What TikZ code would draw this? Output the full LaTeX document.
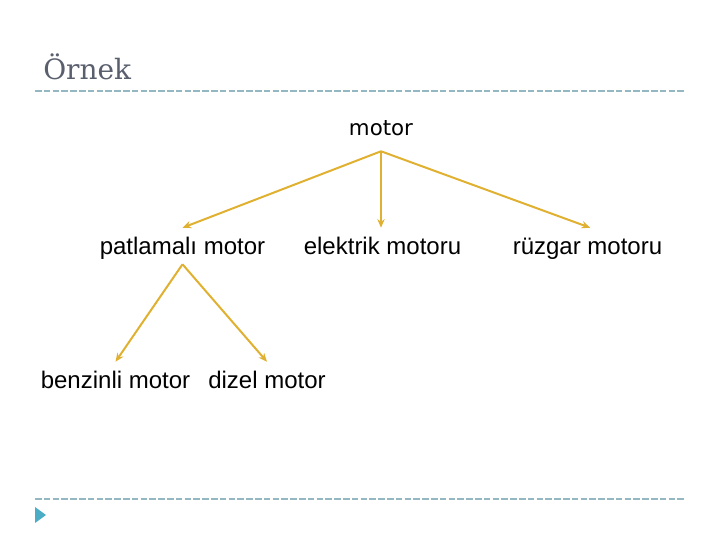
\documentclass[tikz,border=0pt]{standalone}
\usepackage{fontspec}
\setmainfont{Liberation Sans}
\newfontfamily\dvsans{DejaVu Sans}
\newfontfamily\dvserif{DejaVu Serif}
\usepackage{xcolor}
\definecolor{arrgold}{HTML}{E0B030}
\definecolor{ruleteal}{HTML}{93B8C2}
\definecolor{bullteal}{HTML}{4BACC6}
\definecolor{titlegrey}{HTML}{5A5F6E}
\usepackage{tikz}
\usetikzlibrary{positioning,arrows.meta}
\tikzset{
  term/.style ={inner xsep=2pt, inner ysep=0pt, text height=19.5pt, text depth=7.5pt,
                font=\fontsize{18}{20}\selectfont},
  root/.style ={inner xsep=2pt, inner ysep=0pt, text height=12pt, text depth=12pt,
                font=\dvsans\fontsize{16}{18}\selectfont},
  arr/.style  ={-{Stealth[length=6.5pt,width=5.5pt]}, draw=arrgold, line width=1.5pt},
  hrule/.style={draw=ruleteal, line width=0.8pt, dash pattern=on 5pt off 1.6pt},
}

\begin{document}
\begin{tikzpicture}[x=0.75pt,y=-0.75pt]
  \useasboundingbox (0,0) rectangle (720,540);
  % slide frame
  \node[anchor=base west, inner sep=0pt, text=titlegrey,
        font=\dvserif\fontsize{21}{24}\selectfont] (title) at (43,79) {Örnek};
  \draw[hrule] (35,91) -- (685,91);
  \draw[hrule] (35,499) -- (685,499);
  \fill[bullteal] (35,507) -- (46,515) -- (35,523) -- cycle;
  % tree
  \node[root] (motor) at (381,135) {motor};
  \node[term] (patlama) at (182.5,246) {patlamalı motor};
  \node[term] (elektrik) at (382.5,246) {elektrik motoru};
  \node[term] (ruzgar) at (587.5,246) {rüzgar motoru};
  \node[term] (benzin) at (115.5,380) {benzinli motor};
  \node[term] (dizel) at (267,380) {dizel motor};
  \draw[arr] (motor.south) -- (patlama.north);
  \draw[arr] (motor.south) -- (elektrik.north -| motor.south);
  \draw[arr] (motor.south) -- ([xshift=2pt]ruzgar.north);
  \draw[arr] (patlama.south) -- (benzin.north);
  \draw[arr] (patlama.south) -- (dizel.north);
\end{tikzpicture}
\end{document}
